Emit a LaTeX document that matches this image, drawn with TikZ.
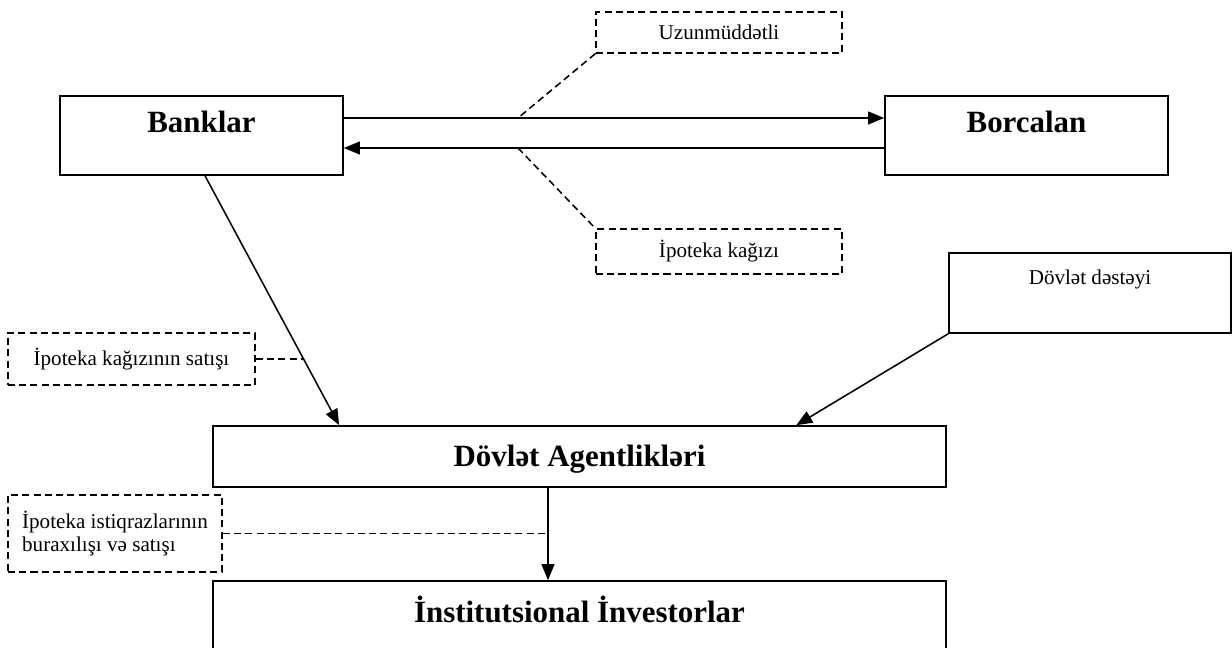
\documentclass[tikz,border=0pt]{standalone}
\usepackage{fontspec}
\setmainfont{Liberation Serif}
\usetikzlibrary{arrows.meta,calc}

\begin{document}
\begin{tikzpicture}[x=0.025cm, y=-0.025cm]
    \tikzstyle{every node}=[font=\fontsize{15}{17}\selectfont]
    \tikzstyle{box} = [rectangle, draw, line width=1.1pt, inner sep=0pt]
    \tikzstyle{note} = [rectangle, draw, line width=1.1pt, dash pattern=on 5pt off 3pt, inner sep=0pt]
    \tikzstyle{title} = [anchor=base, font=\fontsize{22}{26}\selectfont\bfseries]
    \tikzstyle{link} = [line width=1.1pt, -{Triangle[length=0.4cm, width=0.32cm]}]
    \tikzstyle{lead} = [line width=1.1pt, dash pattern=on 5pt off 3pt]
    \clip (0,0) rectangle (1232,648);
        % main boxes
        \node (bank) [box, minimum width=7.075cm, minimum height=1.975cm, label={[title, yshift=-0.925cm]north:Banklar}] at (201.5,135.5) {};
        \node (borc) [box, minimum width=7.075cm, minimum height=1.975cm, label={[title, yshift=-0.925cm]north:Borcalan}] at (1026.5,135.5) {};
        \node (agen) [box, minimum width=18.325cm, minimum height=1.525cm, label={[title, yshift=-1.025cm]north:Dövlət Agentlikləri}] at (579.5,456.5) {};
        \node (inst) [box, minimum width=18.325cm, minimum height=2.025cm, label={[title, yshift=-1.05cm]north:İnstitutsional İnvestorlar}] at (579.5,621.5) {};
        \node (dest) [box, minimum width=7.05cm, minimum height=2cm, label={[anchor=base, yshift=-0.8cm]north:Dövlət dəstəyi}] at (1090,293) {};
        % notes
        \node (long) [note, minimum width=6.15cm, minimum height=1.025cm] at (719,32.5) {Uzunmüddətli};
        \node (ipk) [note, minimum width=6.15cm, minimum height=1.125cm] at (719,251.5) {İpoteka kağızı};
        \node (sale) [note, minimum width=6.175cm, minimum height=1.3cm] at (131.5,359) {İpoteka kağızının satışı};
        \node (bond) [note, minimum width=5.35cm, minimum height=1.925cm, align=left] at (115,533.5) {İpoteka istiqrazlarının\\buraxılışı və satışı};
        % arrows
        \draw[link] ([yshift=0.4375cm]bank.east) -- ([yshift=0.4375cm]borc.west);
        \draw[link] ([yshift=-0.3125cm]borc.west) -- ([yshift=-0.3125cm]bank.east);
        \coordinate (b1) at ([xshift=0.0875cm]bank.south);
        \coordinate (a1) at ([xshift=3.175cm]agen.north west);
        \draw[link] (b1) -- (a1);
        \draw[link] (dest.south west) -- ([xshift=14.6cm]agen.north west);
        \coordinate (a2) at ([xshift=-0.7875cm]agen.south);
        \draw[link] (a2) -- ([xshift=-0.7875cm]inst.north);
        % dashed leaders
        \coordinate (up) at (518,118);
        \coordinate (dn) at (518,148);
        \coordinate (sx) at ($(b1)!0.74!(a1)$);
        \draw[lead] (long.south west) -- (up);
        \draw[lead] (dn) -- (ipk.north west);
        \draw[lead] (sale.east) -- (sale.east -| sx);
        \draw[lead] (bond.east) -- (bond.east -| a2);
\end{tikzpicture}
\end{document}
